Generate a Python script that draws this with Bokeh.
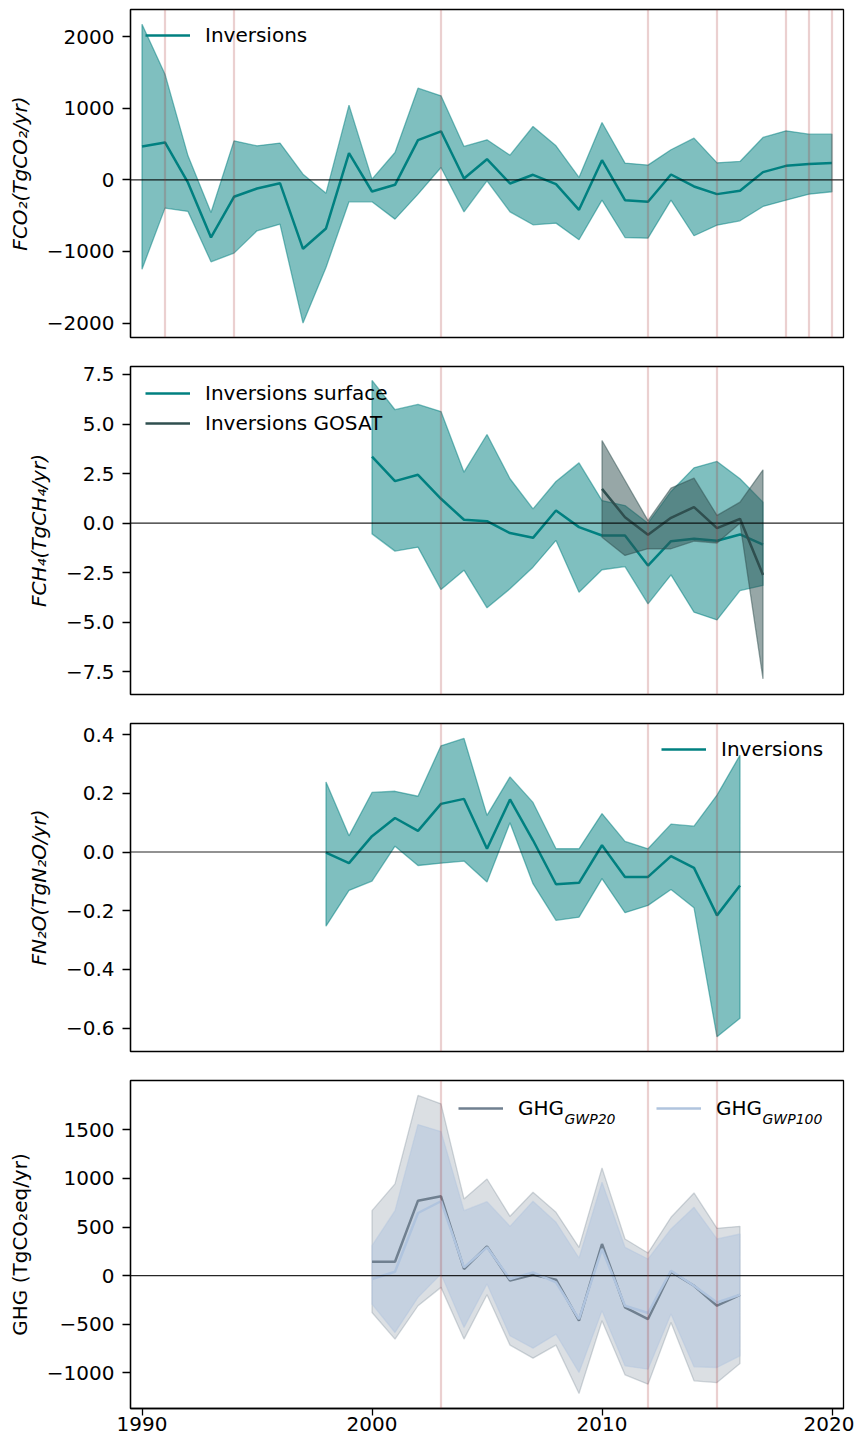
from bokeh.plotting import figure
from bokeh.models import Range1d, FixedTicker, Span, Legend, LegendItem, Label
from bokeh.layouts import column
from bokeh.embed import file_html
from bokeh.resources import INLINE

# ---------------- data ----------------
co2_years = list(range(1990, 2021))
co2_mean = [465, 521, -40, -805, -237, -121, -47, -963, -679, 372, -163, -70, 553, 677,
            19, 288, -51, 70, -60, -419, 274, -284, -307, 74, -93, -200, -153, 107, 195, 219, 233]
co2_upper = [2172, 1474, 335, -456, 544, 474, 512, 79, -186, 1042, 9, 381, 1279, 1172,
             465, 558, 344, 744, 474, 33, 800, 233, 205, 419, 581, 237, 256, 591, 684, 637, 637]
co2_lower = [-1247, -395, -442, -1144, -1023, -712, -619, -2000, -1223, -307, -307, -549, -200, 172,
             -447, -14, -447, -628, -605, -837, -284, -805, -814, -284, -781, -633, -572, -372, -284, -200, -167]

ch4_years = list(range(2000, 2018))
ch4_mean = [3.36, 2.12, 2.44, 1.23, 0.17, 0.10, -0.50, -0.74, 0.64, -0.20, -0.62, -0.62,
            -2.14, -0.91, -0.79, -0.89, -0.57, -1.08]
ch4_upper = [7.20, 5.72, 5.99, 5.63, 2.57, 4.47, 2.24, 0.72, 2.10, 3.04, 1.14, 0.89,
             0.0, 1.6, 2.79, 3.11, 2.24, 1.06]
ch4_lower = [-0.54, -1.41, -1.21, -3.35, -2.37, -4.27, -3.31, -2.22, -0.87, -3.48, -2.35, -2.19,
             -4.07, -2.61, -4.49, -4.88, -3.40, -3.14]

gosat_years = list(range(2010, 2018))
gosat_mean = [1.73, 0.30, -0.59, 0.27, 0.81, -0.25, 0.22, -2.61]
gosat_upper = [4.17, 2.15, 0.13, 1.77, 2.27, 0.39, 1.06, 2.69]
gosat_lower = [-0.71, -1.63, -1.29, -1.29, -0.90, -1.00, 0.0, -7.85]

n2o_years = list(range(1998, 2017))
n2o_mean = [-0.002, -0.038, 0.054, 0.116, 0.072, 0.164, 0.181, 0.011, 0.179, 0.04, -0.110,
            -0.105, 0.023, -0.085, -0.085, -0.014, -0.054, -0.216, -0.114]
n2o_upper = [0.239, 0.055, 0.203, 0.207, 0.190, 0.362, 0.387, 0.125, 0.256, 0.169, 0.011,
             0.011, 0.131, 0.036, 0.011, 0.095, 0.088, 0.194, 0.330]
n2o_lower = [-0.253, -0.131, -0.099, 0.020, -0.046, -0.038, -0.031, -0.102, 0.100, -0.108, -0.233,
             -0.222, -0.091, -0.207, -0.182, -0.128, -0.190, -0.630, -0.567]

ghg_years = list(range(2000, 2017))
gwp20_mean = [144, 144, 772, 817, 69, 302, -51, 10, -41, -463, 326, -326, -446, 41, -103, -309, -196]
gwp20_upper = [669, 944, 1854, 1768, 790, 995, 611, 858, 652, 292, 1109, 378, 233, 601, 851, 487, 508]
gwp20_lower = [-378, -652, -309, -120, -652, -196, -714, -848, -714, -1212, -463, -1020, -1116, -481,
               -1081, -1099, -903]
gwp100_mean = [-34, 41, 645, 766, 86, 292, -34, 34, -69, -446, 275, -309, -384, 51, -103, -275, -196]
gwp100_upper = [309, 669, 1555, 1483, 669, 762, 508, 766, 549, 182, 961, 292, 172, 481, 704, 378, 429]
gwp100_lower = [-292, -584, -223, 17, -532, -86, -618, -745, -601, -996, -360, -927, -961, -395,
                -937, -944, -824]

event_years_co2 = [1991, 1994, 2003, 2012, 2015, 2018, 2019, 2020]
event_years = [2003, 2012, 2015]

x_ticks = [1990, 2000, 2010, 2020]
co2_ticks = [-2000, -1000, 0, 1000, 2000]
ch4_ticks = [-7.5, -5.0, -2.5, 0.0, 2.5, 5.0, 7.5]
n2o_ticks = [-0.6, -0.4, -0.2, 0.0, 0.2, 0.4]
ghg_ticks = [-1000, -500, 0, 500, 1000, 1500]

# ---------------- style ----------------
FONT = "DejaVu Sans"
FS = "20px"
TEAL = "#008080"
DSG = "#2f4f4f"
SLATE = "#708090"
LSB = "#b0c4de"
FRAME_H = 328
TOP_B = 9
BOT_B = 20
BOT_AX = 31


def fmt(t, dec):
    s = f"{t:.{dec}f}"
    return s.replace("-", "\u2212")


def make_fig(yrange, yticks, dec, ylabel, italic=True, bottom=False, vlines=event_years):
    bb = BOT_AX if bottom else BOT_B
    p = figure(width=854, height=TOP_B + FRAME_H + bb, x_range=Range1d(1989.5, 2020.5),
               y_range=Range1d(*yrange), output_backend="svg", toolbar_location=None,
               min_border_left=130, min_border_right=11, min_border_top=TOP_B,
               min_border_bottom=bb)
    p.grid.visible = False
    p.outline_line_color = "black"
    p.outline_line_width = 1.3
    p.background_fill_color = "white"
    p.border_fill_color = "white"

    ya = p.yaxis[0]
    ya.ticker = FixedTicker(ticks=yticks)
    ya.major_label_overrides = {t: fmt(t, dec) for t in yticks}
    ya.minor_tick_line_color = None
    ya.major_tick_out = 8
    ya.major_tick_in = 0
    ya.major_tick_line_width = 1.3
    ya.major_tick_line_color = "black"
    ya.axis_line_color = "black"
    ya.axis_line_width = 1.3
    ya.major_label_text_font = FONT
    ya.major_label_text_font_size = FS
    ya.major_label_text_color = "black"
    ya.major_label_standoff = 8
    ya.axis_label = ylabel
    ya.axis_label_text_font = FONT
    ya.axis_label_text_font_size = FS
    ya.axis_label_text_font_style = "italic" if italic else "normal"
    ya.axis_label_text_color = "black"
    ya.axis_label_standoff = 12

    xa = p.xaxis[0]
    if bottom:
        xa.ticker = FixedTicker(ticks=x_ticks)
        xa.major_label_overrides = {t: str(t) for t in x_ticks}
        xa.minor_tick_line_color = None
        xa.major_tick_out = 7
        xa.major_tick_in = 0
        xa.major_tick_line_width = 1.3
        xa.major_tick_line_color = "black"
        xa.axis_line_color = "black"
        xa.axis_line_width = 1.3
        xa.major_label_text_font = FONT
        xa.major_label_text_font_size = FS
        xa.major_label_text_color = "black"
        xa.major_label_standoff = 1
    else:
        xa.visible = False

    p.add_layout(Span(location=0, dimension="width", line_color="black",
                      line_width=1.2, line_alpha=0.85))
    for yr in vlines:
        p.add_layout(Span(location=yr, dimension="height", line_color="#a52a2a",
                          line_alpha=0.22, line_width=2.2))
    return p


def band(p, xs, lo, hi, color, fill_alpha=0.5, line_alpha=0.5):
    return p.patch(xs + xs[::-1], hi + lo[::-1], fill_color=color, fill_alpha=fill_alpha,
                   line_color=color, line_alpha=line_alpha, line_width=1.3)


def make_legend(items, loc, orientation="vertical", spacing=6):
    lg = Legend(items=items, location=loc, orientation=orientation,
                background_fill_alpha=0, border_line_alpha=0, padding=0, margin=0,
                glyph_width=45, glyph_height=24, label_height=24, label_standoff=15,
                spacing=spacing, label_text_font=FONT, label_text_font_size=FS,
                label_text_color="black")
    return lg


# ---------------- panel 1: CO2 ----------------
p1 = make_fig((-2201, 2377), co2_ticks, 0, "FCO\u2082(TgCO\u2082/yr)", vlines=event_years_co2)
band(p1, co2_years, co2_lower, co2_upper, TEAL)
r1 = p1.line(co2_years, co2_mean, line_color=TEAL, line_width=2.5)
p1.add_layout(make_legend([LegendItem(label="Inversions", renderers=[r1])], (15, FRAME_H - 38)))

# ---------------- panel 2: CH4 ----------------
p2 = make_fig((-8.64, 7.90), ch4_ticks, 1, "FCH\u2084(TgCH\u2084/yr)")
band(p2, ch4_years, ch4_lower, ch4_upper, TEAL)
r2a = p2.line(ch4_years, ch4_mean, line_color=TEAL, line_width=2.5)
band(p2, gosat_years, gosat_lower, gosat_upper, DSG)
r2b = p2.line(gosat_years, gosat_mean, line_color=DSG, line_width=2.5)
p2.add_layout(make_legend([LegendItem(label="Inversions surface", renderers=[r2a]),
                           LegendItem(label="Inversions GOSAT", renderers=[r2b])],
                          (15, FRAME_H - 69)))

# ---------------- panel 3: N2O ----------------
p3 = make_fig((-0.680, 0.438), n2o_ticks, 1, "FN\u2082O(TgN\u2082O/yr)")
band(p3, n2o_years, n2o_lower, n2o_upper, TEAL)
r3 = p3.line(n2o_years, n2o_mean, line_color=TEAL, line_width=2.5)
p3.add_layout(make_legend([LegendItem(label="Inversions", renderers=[r3])], (531, FRAME_H - 38)))

# ---------------- panel 4: GHG ----------------
p4 = make_fig((-1366, 2008), ghg_ticks, 0, "GHG (TgCO\u2082eq/yr)", italic=False, bottom=True)
band(p4, ghg_years, gwp20_lower, gwp20_upper, SLATE, fill_alpha=0.25, line_alpha=0.3)
band(p4, ghg_years, gwp100_lower, gwp100_upper, LSB, fill_alpha=0.5, line_alpha=0.4)
r4a = p4.line(ghg_years, gwp20_mean, line_color=SLATE, line_width=2.5)
r4b = p4.line(ghg_years, gwp100_mean, line_color=LSB, line_width=2.5)
p4.add_layout(make_legend([LegendItem(label="GHG", renderers=[r4a]),
                           LegendItem(label="GHG", renderers=[r4b])],
                          (328, FRAME_H - 40), orientation="horizontal", spacing=92))
for sx, sub in [(434, "GWP20"), (632, "GWP100")]:
    p4.add_layout(Label(x=sx, y=FRAME_H - 38, x_units="screen", y_units="screen", text=sub,
                        text_font=FONT, text_font_size="14px", text_font_style="italic",
                        text_color="black", text_baseline="alphabetic", text_align="left"))

layout = column(p1, p2, p3, p4, spacing=0)
open("out.html", "w").write(file_html(layout, INLINE, title="GHG fluxes"))
